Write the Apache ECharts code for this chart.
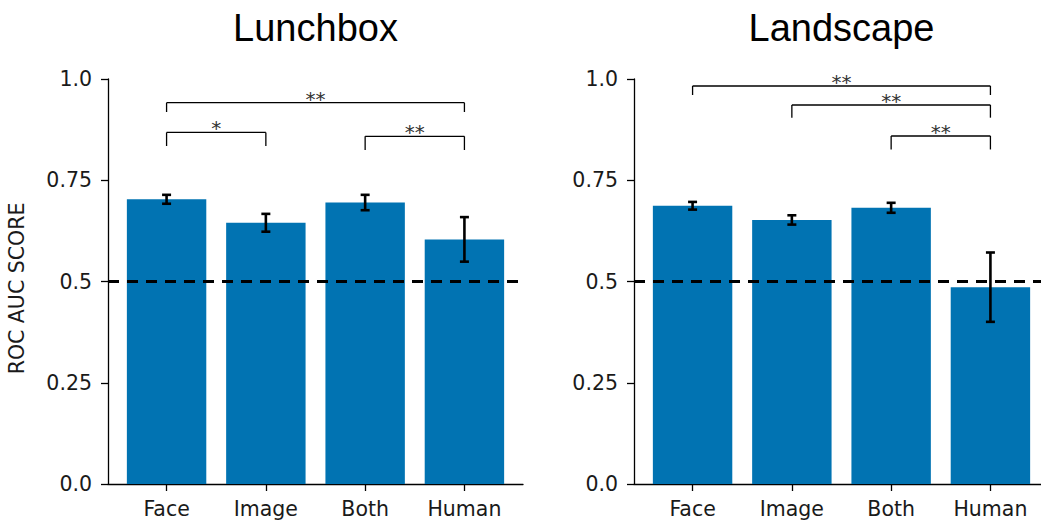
<!DOCTYPE html>
<html>
<head>
<meta charset="utf-8">
<script src="https://cdn.jsdelivr.net/npm/echarts@6/dist/echarts.min.js"></script>
<style>
html,body{margin:0;padding:0;background:#fff;}
#chart{width:1041px;height:525px;}
</style>
</head>
<body>
<div id="chart"></div>
<script>
// ---- data ----
const categories = ['Face', 'Image', 'Both', 'Human'];
const panelTitles = ['Lunchbox', 'Landscape'];
const lunchboxScores = [0.703, 0.645, 0.695, 0.604];
const lunchboxErrors = [0.011, 0.022, 0.019, 0.055];
const landscapeScores = [0.687, 0.652, 0.682, 0.486];
const landscapeErrors = [0.0095, 0.0115, 0.0123, 0.0856];
const yTickValues = [0, 0.25, 0.5, 0.75, 1.0];
const yTickLabels = ['0.0', '0.25', '0.5', '0.75', '1.0'];
const chanceLevel = 0.5;
// significance brackets: [fromCategory, toCategory, barHeight, legBottom, label]
const lunchboxBrackets = [
  [0, 3, 0.9415, 0.9185, '**'],
  [0, 1, 0.868, 0.8346, '*'],
  [2, 3, 0.8585, 0.8247, '**']
];
const landscapeBrackets = [
  [0, 3, 0.9827, 0.9605, '**'],
  [1, 3, 0.9358, 0.9045, '**'],
  [2, 3, 0.8593, 0.826, '**']
];

// ---- styling ----
const barColor = '#0173b2';
const textColor = '#1a1a1a';
const font = '"DejaVu Sans", Verdana, sans-serif';
const xMin = -0.59, xMax = 3.59;

const chart = echarts.init(document.getElementById('chart'), null, {renderer: 'svg'});

const grids = [
  {left: 108, width: 415, top: 79, bottom: 41, outerBoundsMode: 'none', containLabel: false},
  {left: 634, width: 415, top: 79, bottom: 41, outerBoundsMode: 'none', containLabel: false}
];

function xAxisFor(i) {
  return {
    type: 'value', gridIndex: i, min: xMin, max: xMax,
    splitLine: {show: false},
    axisLine: {show: true, onZero: false, lineStyle: {color: '#000', width: 1.3}},
    axisTick: {show: true, length: 7, customValues: [0, 1, 2, 3], lineStyle: {color: '#000', width: 1.3}},
    axisLabel: {
      customValues: [0, 1, 2, 3],
      formatter: v => categories[Math.round(v)],
      color: textColor, fontFamily: font, fontSize: 20.5, margin: 14
    }
  };
}
function yAxisFor(i) {
  const ax = {
    type: 'value', gridIndex: i, min: 0, max: 1, interval: 0.25,
    splitLine: {show: false},
    axisLine: {show: true, onZero: false, lineStyle: {color: '#000', width: 1.3}},
    axisTick: {show: true, length: 7, lineStyle: {color: '#000', width: 1.3}},
    axisLabel: {
      formatter: v => { const k = yTickValues.findIndex(t => Math.abs(t - v) < 1e-9); return k >= 0 ? yTickLabels[k] : ''; },
      color: textColor, fontFamily: font, fontSize: 20.5, margin: 16
    }
  };
  if (i === 0) {
    ax.name = 'ROC AUC SCORE';
    ax.nameLocation = 'middle';
    ax.nameGap = 81;
    ax.nameRotate = 90;
    ax.nameTextStyle = {color: textColor, fontFamily: font, fontSize: 20.5, padding: [0, 14, 0, 0]};
  }
  return ax;
}

function barSeries(i, scores) {
  return {
    type: 'custom', xAxisIndex: i, yAxisIndex: i, z: 2,
    data: scores.map((v, k) => [k, v]),
    renderItem: (params, api) => {
      const x = api.value(0), y = api.value(1);
      const p0 = api.coord([x - 0.4, y]);
      const p1 = api.coord([x + 0.4, 0]);
      return {type: 'rect', shape: {x: p0[0], y: p0[1], width: p1[0] - p0[0], height: p1[1] - p0[1]},
        style: {fill: barColor}};
    }
  };
}
function errorSeries(i, scores, errs) {
  return {
    type: 'custom', xAxisIndex: i, yAxisIndex: i, z: 5,
    data: scores.map((v, k) => [k, v - errs[k], v + errs[k]]),
    renderItem: (params, api) => {
      const lo = api.coord([api.value(0), api.value(1)]);
      const hi = api.coord([api.value(0), api.value(2)]);
      const cw = 4.5;
      const st = {stroke: '#000', lineWidth: 2.6};
      return {type: 'group', children: [
        {type: 'line', shape: {x1: lo[0], y1: lo[1], x2: hi[0], y2: hi[1]}, style: st},
        {type: 'line', shape: {x1: lo[0] - cw, y1: lo[1], x2: lo[0] + cw, y2: lo[1]}, style: st},
        {type: 'line', shape: {x1: hi[0] - cw, y1: hi[1], x2: hi[0] + cw, y2: hi[1]}, style: st}
      ]};
    }
  };
}
function bracketSeries(i, brackets) {
  return {
    type: 'custom', xAxisIndex: i, yAxisIndex: i, z: 6,
    data: brackets.map(b => ({value: [b[0], b[2], b[1], b[3]]})),
    renderItem: (params, api) => {
      const b = brackets[params.dataIndex];
      const x1 = api.value(0), yTop = api.value(1), x2 = api.value(2), yLeg = api.value(3);
      const a = api.coord([x1, yTop]);
      const c = api.coord([x2, yTop]);
      const aL = api.coord([x1, yLeg]);
      const cL = api.coord([x2, yLeg]);
      const st = {stroke: '#000', lineWidth: 1.3};
      return {type: 'group', children: [
        {type: 'line', shape: {x1: aL[0], y1: aL[1], x2: a[0], y2: a[1]}, style: st},
        {type: 'line', shape: {x1: a[0], y1: a[1], x2: c[0], y2: c[1]}, style: st},
        {type: 'line', shape: {x1: c[0], y1: c[1], x2: cL[0], y2: cL[1]}, style: st},
        {type: 'text', x: (a[0] + c[0]) / 2, y: a[1] + 6,
          style: {text: b[4], fill: '#333', font: '20px ' + font, align: 'center', verticalAlign: 'bottom'}}
      ]};
    }
  };
}
function chanceSeries(i) {
  return {
    type: 'line', xAxisIndex: i, yAxisIndex: i, z: 4, symbol: 'none', silent: true,
    data: [[xMin, chanceLevel], [xMax, chanceLevel]],
    lineStyle: {color: '#000', width: 3, type: [11, 8]}
  };
}

const option = {
  animation: false,
  backgroundColor: '#fff',
  title: panelTitles.map((t, i) => ({
    text: t, left: grids[i].left + grids[i].width / 2 - 5, top: 4, textAlign: 'center',
    textStyle: {fontFamily: '"Liberation Sans", Arial, sans-serif', fontSize: 38, fontWeight: 'normal', color: '#000'}
  })),
  grid: grids,
  xAxis: [xAxisFor(0), xAxisFor(1)],
  yAxis: [yAxisFor(0), yAxisFor(1)],
  series: [
    barSeries(0, lunchboxScores), errorSeries(0, lunchboxScores, lunchboxErrors),
    bracketSeries(0, lunchboxBrackets), chanceSeries(0),
    barSeries(1, landscapeScores), errorSeries(1, landscapeScores, landscapeErrors),
    bracketSeries(1, landscapeBrackets), chanceSeries(1)
  ]
};
chart.setOption(option);
</script>
</body>
</html>
